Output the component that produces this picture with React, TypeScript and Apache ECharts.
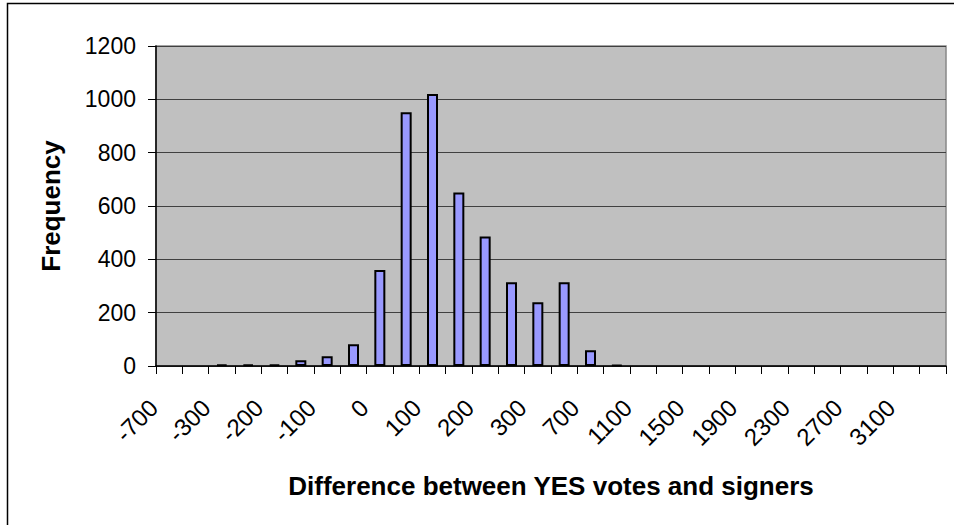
import React, { useEffect, useRef } from "react";
import * as echarts from "echarts";

const categories = [
  "-700", "-500", "-300", "-250", "-200", "-150", "-100", "-50", "0", "50",
  "100", "150", "200", "250", "300", "500", "700", "900", "1100", "1300",
  "1500", "1700", "1900", "2100", "2300", "2500", "2700", "2900", "3100", "3300",
];
const frequency = [
  0, 0, 5, 5, 5, 22, 37, 82, 360, 952,
  1020, 651, 486, 314, 239, 314, 59, 4, 0, 0,
  0, 0, 0, 0, 0, 0, 0, 0, 0, 0,
];
const yTicks = { min: 0, max: 1200, interval: 200 };
const xTitle = "Difference between YES votes and signers";
const yTitle = "Frequency";

const FONT = "'Liberation Sans', Arial, sans-serif";

export default function App() {
  const ref = useRef<HTMLDivElement>(null);
  useEffect(() => {
    document.body.style.margin = "0";
    if (!ref.current) return;
    const chart = echarts.init(ref.current, undefined, { renderer: "svg" });
    chart.setOption({
      animation: false,
      grid: {
        left: 156,
        top: 46,
        right: 8,
        bottom: 159,
        show: true,
        backgroundColor: "#C0C0C0",
        borderColor: "#888888",
        borderWidth: 1.5,
      },
      xAxis: {
        type: "category",
        data: categories,
        boundaryGap: true,
        axisLine: { show: true, lineStyle: { color: "#000", width: 1.5 } },
        axisTick: { show: true, interval: 0, length: 8, lineStyle: { color: "#000", width: 1 } },
        axisLabel: {
          interval: 1,
          rotate: 45,
          fontSize: 24,
          color: "#000",
          fontFamily: FONT,
          margin: 22,
          padding: [0, 22, 0, 0],
        },
        splitLine: { show: false },
        name: xTitle,
        nameLocation: "middle",
        nameGap: 107,
        nameTextStyle: { fontSize: 26, fontWeight: "bold", color: "#000", fontFamily: FONT },
      },
      yAxis: {
        type: "value",
        min: yTicks.min,
        max: yTicks.max,
        interval: yTicks.interval,
        axisLine: { show: true, lineStyle: { color: "#000", width: 1.5 } },
        axisTick: { show: true, length: 8, lineStyle: { color: "#000", width: 1 } },
        axisLabel: {
          fontSize: 23,
          color: "#000",
          fontFamily: FONT,
          margin: 20,
          formatter: (v: number) => String(v),
        },
        splitLine: { show: true, lineStyle: { color: "#404040", width: 1 } },
        name: yTitle,
        nameLocation: "middle",
        nameGap: 92,
        nameTextStyle: { fontSize: 26, fontWeight: "bold", color: "#000", fontFamily: FONT },
      },
      series: [
        {
          type: "bar",
          data: frequency.map((v) => (v === 0 ? "-" : v)),
          barWidth: 11,
          itemStyle: { color: "#9999FF", borderColor: "#000", borderWidth: 2 },
        },
      ],
      graphic: [
        {
          type: "rect",
          silent: true,
          shape: { x: 7.5, y: 3.5, width: 1000, height: 600 },
          style: { fill: "none", stroke: "#000", lineWidth: 1.5 },
        },
      ],
    });
    return () => chart.dispose();
  }, []);
  return <div ref={ref} style={{ width: 954, height: 525 }} />;
}
